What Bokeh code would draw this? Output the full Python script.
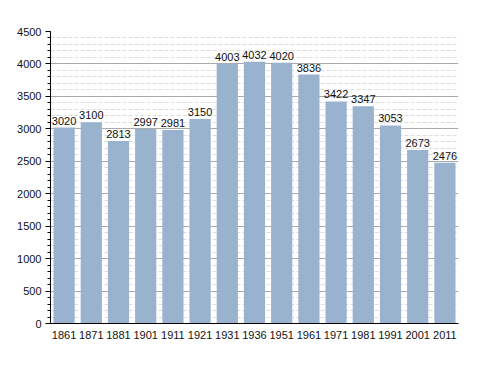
from bokeh.plotting import figure
from bokeh.models import ColumnDataSource, FixedTicker, LabelSet, Range1d, FactorRange
from bokeh.core.properties import value
from bokeh.embed import file_html
from bokeh.resources import INLINE

years = ["1861", "1871", "1881", "1901", "1911", "1921", "1931", "1936", "1951",
         "1961", "1971", "1981", "1991", "2001", "2011"]
population = [3020, 3100, 2813, 2997, 2981, 3150, 4003, 4032, 4020, 3836,
              3422, 3347, 3053, 2673, 2476]
y_ticks = [0, 500, 1000, 1500, 2000, 2500, 3000, 3500, 4000, 4500]

src = ColumnDataSource(dict(x=years, y=population, lab=[str(v) for v in population]))

p = figure(width=472, height=357, x_range=FactorRange(*years, range_padding=0),
           y_range=Range1d(0, 4500), output_backend="svg", toolbar_location=None,
           min_border_left=50, min_border_right=14, min_border_top=31, min_border_bottom=34)
p.outline_line_color = None
p.background_fill_color = "white"

p.vbar(x="x", top="y", width=0.78, source=src, fill_color="#99b3cf", line_color=None)

labels = LabelSet(x="x", y="y", text="lab", source=src, text_align="center",
                  text_baseline="bottom", y_offset=3, text_font=value("Liberation Sans"),
                  text_font_size="11px", text_color="#111111")
p.add_layout(labels)

p.yaxis.ticker = FixedTicker(ticks=y_ticks, minor_ticks=list(range(0, 4501, 100)))
p.yaxis.major_label_text_font = "Liberation Sans"
p.yaxis.major_label_text_font_size = "11px"
p.yaxis.major_label_text_color = "#111111"
p.yaxis.major_tick_out = 5
p.yaxis.major_tick_in = 0
p.yaxis.minor_tick_out = 3
p.yaxis.minor_tick_in = 0
p.yaxis.axis_line_color = "black"
p.yaxis.major_label_standoff = 4

p.xaxis.major_label_text_font = "Liberation Sans"
p.xaxis.major_label_text_font_size = "11px"
p.xaxis.major_label_text_color = "#111111"
p.xaxis.major_tick_line_color = None
p.xaxis.minor_tick_line_color = None
p.xaxis.axis_line_color = "black"
p.xaxis.major_label_standoff = 1

p.xgrid.grid_line_color = None
p.ygrid.grid_line_color = "#aaaaaa"
p.ygrid.minor_grid_line_color = "#dddddd"
p.ygrid.minor_grid_line_dash = "4 2"
p.ygrid.level = "underlay"

open("out.html", "w").write(file_html(p, INLINE))
